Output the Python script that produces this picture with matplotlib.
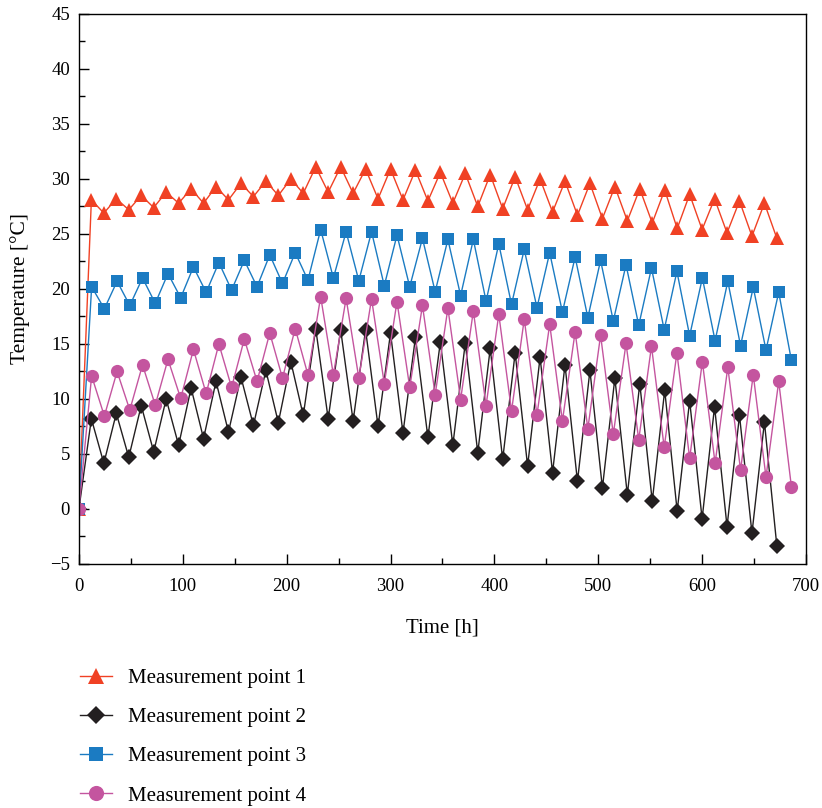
import matplotlib
import numpy as np
from matplotlib import pyplot as plt
from matplotlib.ticker import MultipleLocator

matplotlib.use("Agg")

plt.rcParams["font.family"] = ["Liberation Serif", "DejaVu Serif"]

# Sampling grids (hours): points 1 and 2 every 12 h, points 3 and 4 slightly wider
time_p12 = np.arange(57) * 12.0
time_p34 = np.arange(57) * 12.25

point1 = [0, 28.1, 26.9, 28.2, 27.2, 28.5, 27.4, 28.8, 27.8, 29.1, 27.8, 29.3, 28.1, 29.6, 28.4,
          29.8, 28.5, 30.0, 28.7, 31.1, 28.8, 31.1, 28.7, 30.9, 28.2, 30.9, 28.1, 30.8, 28.0, 30.6,
          27.8, 30.5, 27.5, 30.4, 27.3, 30.2, 27.2, 30.0, 27.0, 29.8, 26.7, 29.6, 26.4, 29.3, 26.2,
          29.1, 26.0, 29.0, 25.5, 28.6, 25.4, 28.2, 25.1, 28.0, 24.8, 27.8, 24.6]
point2 = [0, 8.2, 4.15, 8.7, 4.7, 9.4, 5.2, 10.0, 5.8, 11.0, 6.4, 11.6, 7.0, 12.0, 7.6,
          12.6, 7.85, 13.4, 8.5, 16.4, 8.2, 16.3, 8.0, 16.3, 7.5, 16.0, 6.9, 15.6, 6.5, 15.2,
          5.8, 15.1, 5.1, 14.6, 4.5, 14.2, 3.9, 13.8, 3.3, 13.1, 2.5, 12.6, 1.9, 11.9, 1.3,
          11.4, 0.7, 10.8, -0.2, 9.85, -0.9, 9.3, -1.6, 8.5, -2.2, 7.9, -3.4]
point3 = [0, 20.2, 18.2, 20.7, 18.5, 21.0, 18.7, 21.4, 19.2, 22.0, 19.7, 22.4, 19.9, 22.6, 20.2,
          23.1, 20.5, 23.3, 20.8, 25.4, 21.0, 25.2, 20.75, 25.2, 20.3, 24.9, 20.2, 24.6, 19.75, 24.5,
          19.4, 24.5, 18.9, 24.1, 18.6, 23.6, 18.3, 23.3, 17.9, 22.9, 17.4, 22.6, 17.1, 22.2, 16.7,
          21.9, 16.3, 21.6, 15.75, 21.0, 15.3, 20.7, 14.85, 20.15, 14.45, 19.7, 13.5]
point4 = [0, 12.1, 8.45, 12.5, 9.0, 13.1, 9.45, 13.6, 10.05, 14.5, 10.5, 15.0, 11.05, 15.45, 11.6,
          16.0, 11.9, 16.4, 12.2, 19.3, 12.2, 19.15, 11.9, 19.1, 11.4, 18.85, 11.05, 18.5, 10.4, 18.25,
          9.95, 18.0, 9.4, 17.7, 8.9, 17.25, 8.55, 16.8, 8.0, 16.1, 7.3, 15.8, 6.8, 15.05, 6.3,
          14.8, 5.6, 14.2, 4.6, 13.4, 4.15, 12.9, 3.55, 12.2, 2.9, 11.6, 2.0]

series = [
    ("Measurement point 1", time_p12, point1, "#F04124", "^", 10),
    ("Measurement point 2", time_p12, point2, "#231F20", "D", 8),
    ("Measurement point 3", time_p34, point3, "#1B7BC2", "s", 8.5),
    ("Measurement point 4", time_p34, point4, "#C4559F", "o", 9.5),
]

fig = plt.figure(figsize=(8.22, 8.08), dpi=100)
ax = fig.add_axes([0.096, 0.302, 0.8845, 0.6807])

for label, t, values, color, marker, size in series:
    ax.plot(t, values, color=color, lw=1.0, marker=marker, markersize=size,
            markeredgewidth=0, label=label)

ax.set_xlim(0, 700)
ax.set_ylim(-5, 45)
ax.xaxis.set_major_locator(MultipleLocator(100))
ax.xaxis.set_minor_locator(MultipleLocator(50))
ax.yaxis.set_major_locator(MultipleLocator(5))
ax.yaxis.set_minor_locator(MultipleLocator(2.5))
ax.tick_params(which="both", direction="in", labelsize=13.5, width=1.0)
ax.tick_params(which="major", length=7)
ax.tick_params(which="minor", length=4)
ax.tick_params(axis="x", which="major", pad=10)
ax.tick_params(axis="y", which="major", pad=6.5)
for spine in ax.spines.values():
    spine.set_linewidth(1.0)

ax.set_xlabel("Time [h]", fontsize=15, labelpad=17)
ax.set_ylabel("Temperature [°C]", fontsize=15.5, labelpad=14)

ax.legend(loc="upper left", bbox_to_anchor=(0.097, 0.1726), bbox_transform=fig.transFigure,
          frameon=False, fontsize=15, borderpad=0, borderaxespad=0, markerscale=1.15,
          handlelength=1.55, handletextpad=0.77, labelspacing=0.94)

fig.savefig("out.png", dpi=100)
